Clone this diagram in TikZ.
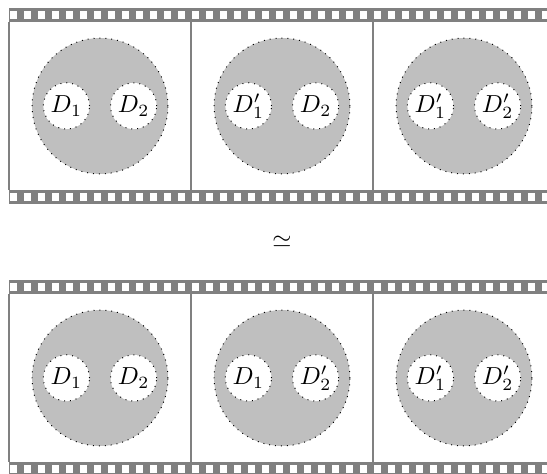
\documentclass[tikz,border=0pt]{standalone}
\usepackage{amsmath,amssymb}
\usepackage{xcolor}

\begin{document}
\begin{tikzpicture}[
    film/.style={fill=gray},
    hole/.style={fill=white},
    sep/.style={draw=gray,line width=1.1pt},
    disk/.style={circle,draw,dotted,fill=lightgray,minimum size=1.94cm,inner sep=0pt},
    cut/.style={circle,draw,dotted,fill=white,minimum size=0.66cm,inner sep=0pt}]
    \clip (0,0) rectangle (7.814,-6.757);

    % film strips
    \foreach \t in {-0.114,-4.0} {
        \fill[film] (0.129,\t) rectangle (8,\t-0.2);
        \fill[film] (0.129,\t-2.6) rectangle (8,\t-2.8);
        \foreach \k in {0,...,38} {
            \fill[hole] (0.149+0.2*\k,\t-0.045) rectangle ++(0.1,-0.11);
            \fill[hole] (0.149+0.2*\k,\t-2.645) rectangle ++(0.1,-0.11);
        }
        \foreach \x in {0.129,2.729,5.329}
            \draw[sep] (\x,\t-0.2) -- (\x,\t-2.6);
    }

    % upper strip
    \node[disk] (u1) at (1.429,-1.514) {};
    \node[disk] (u2) at (4.029,-1.514) {};
    \node[disk] (u3) at (6.629,-1.514) {};
    \node[cut] (u1a) at (0.949,-1.514) {\(D_1\)};
    \node[cut] (u1b) at (1.909,-1.514) {\(D_2\)};
    \node[cut] (u2a) at (3.549,-1.514) {\(D_1'\)};
    \node[cut] (u2b) at (4.509,-1.514) {\(D_2\)};
    \node[cut] (u3a) at (6.149,-1.514) {\(D_1'\)};
    \node[cut] (u3b) at (7.109,-1.514) {\(D_2'\)};

    \node (eq) at (4.029,-3.457) {\(\simeq\)};

    % lower strip
    \node[disk] (l1) at (1.429,-5.4) {};
    \node[disk] (l2) at (4.029,-5.4) {};
    \node[disk] (l3) at (6.629,-5.4) {};
    \node[cut] (l1a) at (0.949,-5.4) {\(D_1\)};
    \node[cut] (l1b) at (1.909,-5.4) {\(D_2\)};
    \node[cut] (l2a) at (3.549,-5.4) {\(D_1\)};
    \node[cut] (l2b) at (4.509,-5.4) {\(D_2'\)};
    \node[cut] (l3a) at (6.149,-5.4) {\(D_1'\)};
    \node[cut] (l3b) at (7.109,-5.4) {\(D_2'\)};
\end{tikzpicture}
\end{document}
